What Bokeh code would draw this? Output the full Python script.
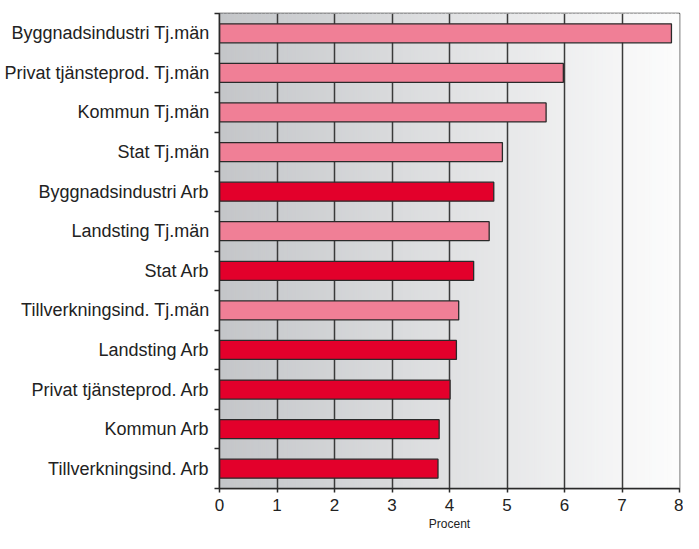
import numpy as np
from bokeh.plotting import figure
from bokeh.models import FixedTicker, ColumnDataSource
from bokeh.embed import file_html
from bokeh.resources import INLINE

# Data, top to bottom as in the chart
categories = [
    "Byggnadsindustri Tj.män",
    "Privat tjänsteprod. Tj.män",
    "Kommun Tj.män",
    "Stat Tj.män",
    "Byggnadsindustri Arb",
    "Landsting Tj.män",
    "Stat Arb",
    "Tillverkningsind. Tj.män",
    "Landsting Arb",
    "Privat tjänsteprod. Arb",
    "Kommun Arb",
    "Tillverkningsind. Arb",
]
values = [7.86, 5.98, 5.68, 4.92, 4.77, 4.69, 4.42, 4.16, 4.12, 4.01, 3.82, 3.80]
groups = ["Tj.män", "Tj.män", "Tj.män", "Tj.män", "Arb", "Tj.män",
          "Arb", "Tj.män", "Arb", "Arb", "Arb", "Arb"]
x_ticks = [0, 1, 2, 3, 4, 5, 6, 7, 8]
x_label = "Procent"

group_colors = {"Tj.män": "#f07f96", "Arb": "#e3002b"}

n = len(categories)
centers = [n - 1 - i + 0.5 for i in range(n)]
boundaries = list(range(n + 1))

p = figure(width=683, height=533, x_range=(0, 8), y_range=(0, n),
           output_backend="svg", toolbar_location=None,
           min_border_left=219, min_border_right=4,
           min_border_top=13, min_border_bottom=40)

# Background gradient (style)
steps = 120
edges = np.linspace(0, 8, steps + 1)
c0 = np.array([0xc4, 0xc6, 0xc9])
c1 = np.array([0xfd, 0xfd, 0xfd])
cols = []
for k in range(steps):
    t = (k + 0.5) / steps
    c = (c0 + (c1 - c0) * t).astype(int)
    cols.append("#%02x%02x%02x" % tuple(c))
p.quad(left=edges[:-1], right=edges[1:], bottom=0, top=n, fill_color=cols,
       line_color=cols, line_width=1.2, level="image")

src = ColumnDataSource(dict(y=centers, v=values,
                            c=[group_colors[g] for g in groups]))
p.hbar(y="y", right="v", left=0, height=0.48, source=src, fill_color="c",
       line_color="#2a2a2a", line_width=1.3)

# Grid
p.ygrid.grid_line_color = None
p.xgrid.ticker = FixedTicker(ticks=x_ticks)
p.xgrid.grid_line_color = "#3a3a3a"
p.xgrid.grid_line_width = 1.5

p.outline_line_color = "#2a2a2a"
p.outline_line_width = 1.5
p.background_fill_color = "white"

# X axis
xa = p.xaxis[0]
xa.ticker = FixedTicker(ticks=x_ticks)
xa.axis_label = x_label
xa.axis_label_text_font = "Liberation Sans"
xa.axis_label_text_font_size = "12px"
xa.axis_label_text_font_style = "normal"
xa.axis_label_text_color = "#222222"
xa.axis_label_standoff = 3
xa.major_label_text_font = "Liberation Sans"
xa.major_label_text_font_size = "17px"
xa.major_label_text_color = "#222222"
xa.major_label_standoff = 6
xa.major_tick_out = 4
xa.major_tick_in = 0
xa.minor_tick_out = 0
xa.minor_tick_in = 0
xa.axis_line_color = "#2a2a2a"
xa.axis_line_width = 1.5
xa.major_tick_line_color = "#2a2a2a"
xa.major_tick_line_width = 1.5

# Y axis
ya = p.yaxis[0]
ya.ticker = FixedTicker(ticks=centers, minor_ticks=boundaries)
ya.major_label_overrides = {c: name for c, name in zip(centers, categories)}
ya.major_label_text_font = "Liberation Sans"
ya.major_label_text_font_size = "18px"
ya.major_label_text_color = "#222222"
ya.major_label_standoff = 5
ya.major_tick_out = 0
ya.major_tick_in = 0
ya.minor_tick_out = 5
ya.minor_tick_in = 0
ya.minor_tick_line_color = "#2a2a2a"
ya.minor_tick_line_width = 1.3
ya.axis_line_color = "#2a2a2a"
ya.axis_line_width = 1.5

open("out.html", "w").write(file_html(p, INLINE))
